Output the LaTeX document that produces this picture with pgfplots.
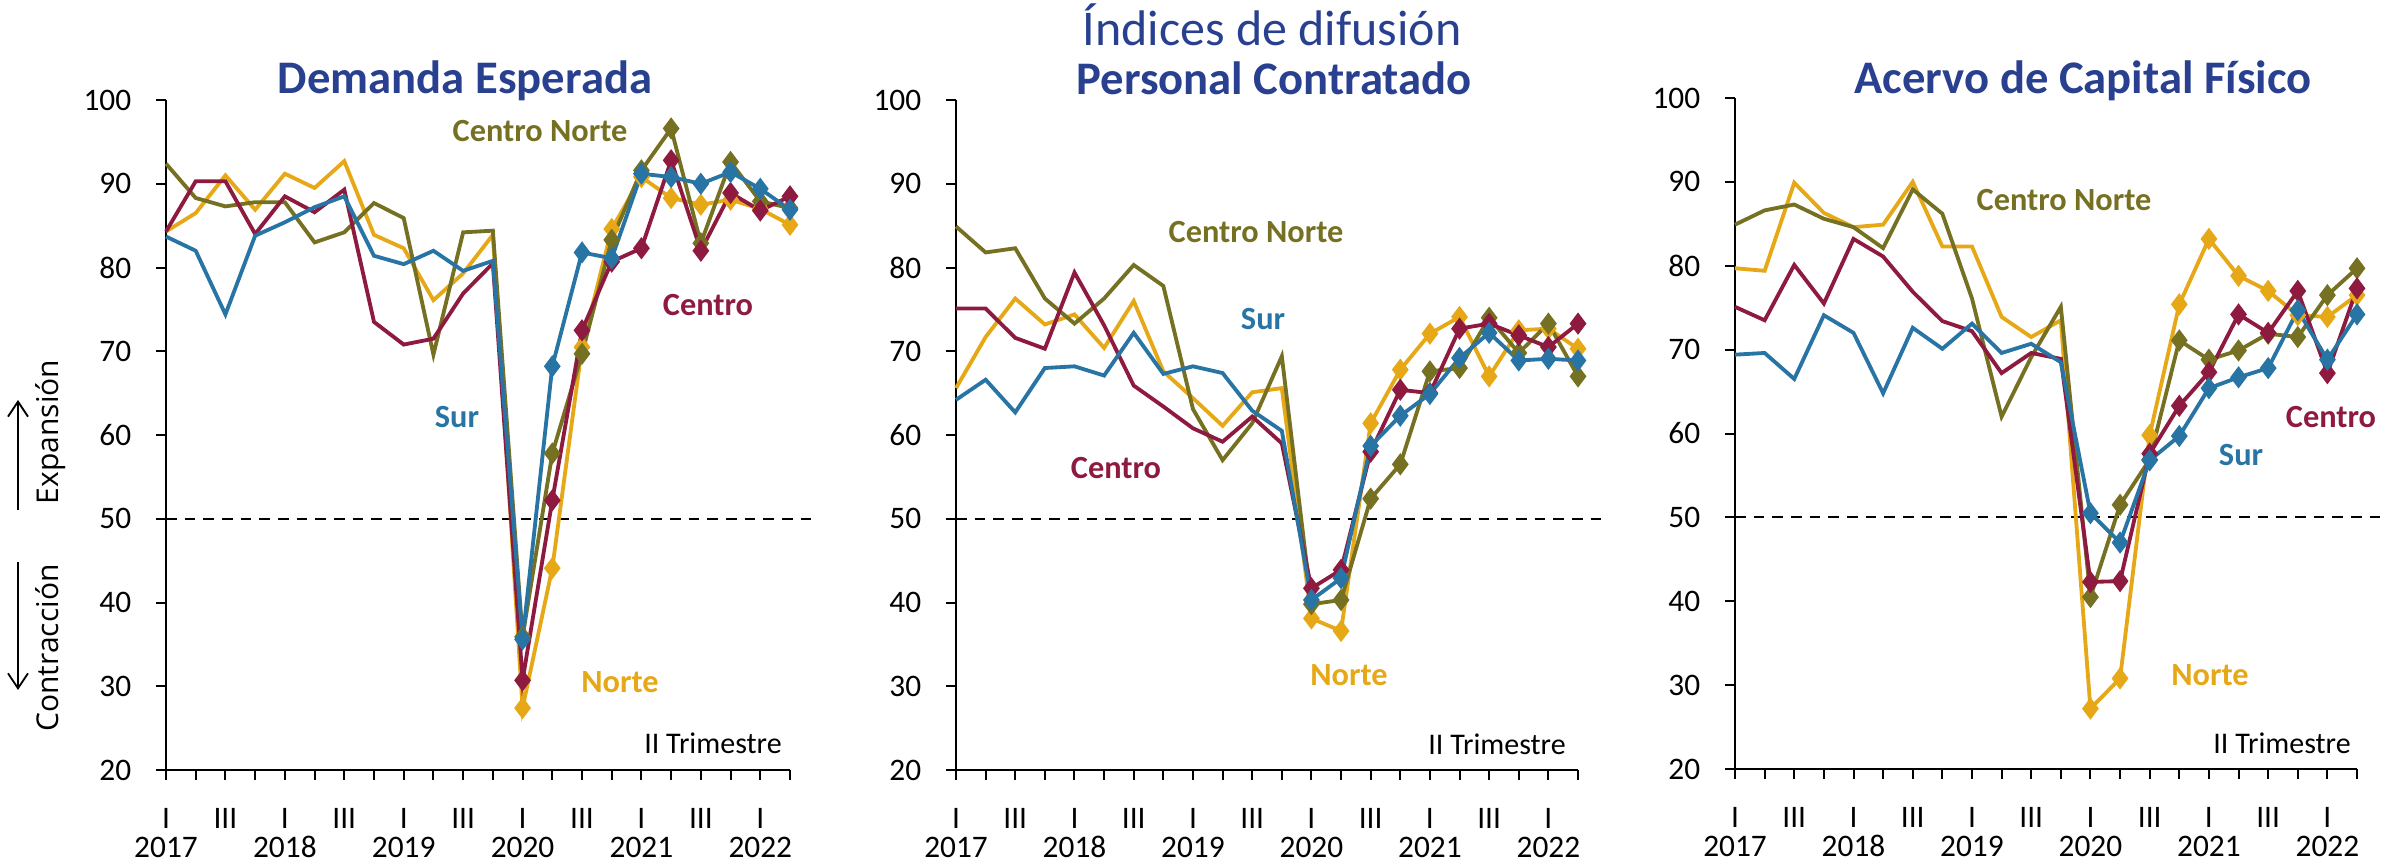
\documentclass[border=0pt]{standalone}
\usepackage{fontspec}
\setmainfont{Carlito}
\newfontfamily\sidefont{Open Sans}
\usepackage{pgfplots}
\pgfplotsset{compat=1.18}
\usetikzlibrary{arrows.meta}
\definecolor{cnorte}{RGB}{230,168,23}
\definecolor{ccnorte}{RGB}{117,112,34}
\definecolor{ccentro}{RGB}{142,27,63}
\definecolor{csur}{RGB}{40,116,164}
\definecolor{ctitle}{RGB}{40,64,143}
\pgfplotsset{
  panel/.style={
    scale only axis, clip=false,
    xmin=0, xmax=21, ymin=20, ymax=100,
    axis lines*=left,
    axis line style={line width=0.6pt, black},
    xtick={0,...,21},
    xticklabels={I,,III,,I,,III,,I,,III,,I,,III,,I,,III,,I,},
    ytick={20,30,...,100},
    tick align=outside, major tick length=3pt,
    tick style={black, line width=0.6pt},
    ticklabel style={font=\fontsize{9.4}{10}\selectfont},
    xticklabel style={anchor=base, yshift=-14.6pt},
    yticklabel style={anchor=east, xshift=-3.9pt},
    extra x ticks={0,4,8,12,16,20},
    extra x tick labels={2017,2018,2019,2020,2021,2022},
    extra x tick style={major tick length=0pt, xticklabel style={yshift=-11.6pt}},
    /pgf/number format/assume math mode=true,
  },
  ser/.style={line width=1.15pt, mark=diamond*, mark size=2.4pt,
    mark indices={13,14,15,16,17,18,19,20,21,22}, mark options={solid}},
}
\newcommand{\reflinefifty}[1]{\draw[black, line width=0.55pt, dash pattern=on 3.2pt off 2.4pt] (axis cs:0,50) -- (axis cs:#1,50);}
\begin{document}
\begin{tikzpicture}
\path[use as bounding box] (0,0) rectangle (716.7pt,259.2pt);

% Panel 1: Demanda Esperada
\begin{axis}[panel, width=187.2pt, height=201pt, at={(49.8pt,28.2pt)}, anchor=south west]
\reflinefifty{21.9}
\addplot[ser, color=cnorte] coordinates {(0,84.3)(1,86.5)(2,91.0)(3,86.9)(4,91.2)(5,89.5)(6,92.7)(7,83.9)(8,82.3)(9,76.1)(10,79.3)(11,83.9)(12,27.4)(13,44.1)(14,70.5)(15,84.6)(16,90.8)(17,88.3)(18,87.5)(19,88.1)(20,87.0)(21,85.1)};
\addplot[ser, color=ccnorte] coordinates {(0,92.4)(1,88.3)(2,87.3)(3,87.8)(4,87.8)(5,83.0)(6,84.2)(7,87.7)(8,85.9)(9,69.6)(10,84.2)(11,84.4)(12,35.9)(13,57.8)(14,69.7)(15,83.3)(16,91.6)(17,96.6)(18,82.9)(19,92.6)(20,87.9)(21,87.1)};
\addplot[ser, color=ccentro] coordinates {(0,84.3)(1,90.3)(2,90.3)(3,84.0)(4,88.5)(5,86.6)(6,89.3)(7,73.5)(8,70.8)(9,71.5)(10,76.9)(11,80.5)(12,30.7)(13,52.2)(14,72.5)(15,80.7)(16,82.3)(17,92.8)(18,82.0)(19,88.9)(20,86.8)(21,88.5)};
\addplot[ser, color=csur] coordinates {(0,83.7)(1,82.0)(2,74.4)(3,83.8)(4,85.4)(5,87.2)(6,88.5)(7,81.4)(8,80.4)(9,82.0)(10,79.6)(11,80.8)(12,35.6)(13,68.2)(14,81.8)(15,81.1)(16,91.2)(17,90.8)(18,90.0)(19,91.4)(20,89.4)(21,86.9)};
\end{axis}

% Panel 2: Personal Contratado
\begin{axis}[panel, width=186.6pt, height=201pt, at={(286.8pt,28.2pt)}, anchor=south west]
\reflinefifty{21.9}
\addplot[ser, color=cnorte] coordinates {(0,65.6)(1,71.7)(2,76.3)(3,73.2)(4,74.4)(5,70.4)(6,76.0)(7,67.6)(8,64.4)(9,61.1)(10,65.1)(11,65.6)(12,38.1)(13,36.6)(14,61.4)(15,67.8)(16,72.1)(17,74.1)(18,67.0)(19,72.5)(20,72.7)(21,70.3)};
\addplot[ser, color=ccnorte] coordinates {(0,84.9)(1,81.8)(2,82.3)(3,76.3)(4,73.3)(5,76.3)(6,80.3)(7,77.8)(8,63.1)(9,57.0)(10,61.4)(11,69.4)(12,39.8)(13,40.3)(14,52.4)(15,56.5)(16,67.6)(17,68.0)(18,74.0)(19,69.8)(20,73.3)(21,67.0)};
\addplot[ser, color=ccentro] coordinates {(0,75.1)(1,75.1)(2,71.6)(3,70.3)(4,79.4)(5,73.1)(6,65.9)(7,63.4)(8,60.8)(9,59.2)(10,62.2)(11,59.0)(12,41.7)(13,43.9)(14,58.0)(15,65.4)(16,65.0)(17,72.7)(18,73.3)(19,71.9)(20,70.5)(21,73.3)};
\addplot[ser, color=csur] coordinates {(0,64.2)(1,66.6)(2,62.7)(3,68.0)(4,68.2)(5,67.1)(6,72.2)(7,67.3)(8,68.2)(9,67.4)(10,62.9)(11,60.5)(12,40.3)(13,42.9)(14,58.7)(15,62.3)(16,64.9)(17,69.2)(18,72.2)(19,68.9)(20,69.1)(21,68.9)};
\end{axis}

% Panel 3: Acervo de Capital Fisico
\begin{axis}[panel, width=186.6pt, height=201.3pt, at={(520.5pt,28.5pt)}, anchor=south west]
\reflinefifty{22.05}
\addplot[ser, color=cnorte] coordinates {(0,79.7)(1,79.4)(2,89.9)(3,86.3)(4,84.6)(5,84.9)(6,90.0)(7,82.3)(8,82.3)(9,73.9)(10,71.5)(11,73.5)(12,27.2)(13,30.8)(14,59.8)(15,75.4)(16,83.2)(17,78.8)(18,77.0)(19,74.1)(20,73.9)(21,76.5)};
\addplot[ser, color=ccnorte] coordinates {(0,84.9)(1,86.6)(2,87.3)(3,85.6)(4,84.6)(5,82.1)(6,89.1)(7,86.2)(8,76.1)(9,62.0)(10,69.1)(11,75.1)(12,40.5)(13,51.5)(14,56.9)(15,71.1)(16,68.8)(17,69.9)(18,71.9)(19,71.5)(20,76.5)(21,79.7)};
\addplot[ser, color=ccentro] coordinates {(0,75.1)(1,73.5)(2,80.1)(3,75.5)(4,83.2)(5,81.1)(6,76.9)(7,73.4)(8,72.2)(9,67.2)(10,69.6)(11,68.9)(12,42.3)(13,42.4)(14,57.6)(15,63.3)(16,67.3)(17,74.2)(18,72.0)(19,77.0)(20,67.2)(21,77.3)};
\addplot[ser, color=csur] coordinates {(0,69.4)(1,69.6)(2,66.5)(3,74.1)(4,72.0)(5,64.8)(6,72.6)(7,70.1)(8,73.1)(9,69.6)(10,70.7)(11,68.5)(12,50.5)(13,47.0)(14,56.8)(15,59.7)(16,65.4)(17,66.7)(18,67.8)(19,74.7)(20,68.8)(21,74.2)};
\end{axis}

% Titles
\node[anchor=base, text=ctitle, font=\fontsize{15}{17}\selectfont] at (381.6pt,245.4pt) {Índices de difusión};
\node[anchor=base, text=ctitle, font=\bfseries\fontsize{14}{16}\selectfont] at (139.5pt,231pt) {Demanda Esperada};
\node[anchor=base, text=ctitle, font=\bfseries\fontsize{14}{16}\selectfont] at (382.2pt,230.7pt) {Personal Contratado};
\node[anchor=base, text=ctitle, font=\bfseries\fontsize{14}{16}\selectfont] at (624.9pt,231pt) {Acervo de Capital Físico};

% Series labels
\tikzset{lab/.style={anchor=base, font=\bfseries\fontsize{9.7}{11}\selectfont, inner sep=0pt}}
\tikzset{trim/.style={anchor=base, font=\fontsize{9}{10}\selectfont, inner sep=0pt}}
\node[lab, text=ccnorte] at (162pt,216.6pt) {Centro Norte};
\node[lab, text=ccentro] at (212.4pt,164.4pt) {Centro};
\node[lab, text=csur] at (137.1pt,130.8pt) {Sur};
\node[lab, text=cnorte] at (186pt,51.3pt) {Norte};
\node[trim] at (213.9pt,33pt) {II Trimestre};

\node[lab, text=ccnorte] at (376.8pt,186.3pt) {Centro Norte};
\node[lab, text=csur] at (378.9pt,160.2pt) {Sur};
\node[lab, text=ccentro] at (334.8pt,115.5pt) {Centro};
\node[lab, text=cnorte] at (404.7pt,53.4pt) {Norte};
\node[trim] at (449.1pt,32.7pt) {II Trimestre};

\node[lab, text=ccnorte] at (619.2pt,195.9pt) {Centro Norte};
\node[lab, text=ccentro] at (699.3pt,130.8pt) {Centro};
\node[lab, text=csur] at (672.3pt,119.4pt) {Sur};
\node[lab, text=cnorte] at (663pt,53.4pt) {Norte};
\node[trim] at (684.6pt,33pt) {II Trimestre};

% Side labels
\node[anchor=base, rotate=90, inner sep=0pt] at (17.4pt,129.6pt) {\sidefont\fontsize{9}{10}\selectfont Expansión};
\node[anchor=base, rotate=90, inner sep=0pt] at (17.4pt,64.8pt) {\sidefont\fontsize{9}{10}\selectfont Contracción};
\draw[line width=0.55pt, -{Straight Barb[length=4.5pt,width=6pt]}] (5.4pt,106.2pt) -- (5.4pt,139.2pt);
\draw[line width=0.55pt, -{Straight Barb[length=4.5pt,width=6pt]}] (5.4pt,90.6pt) -- (5.4pt,52.2pt);
\end{tikzpicture}
\end{document}
